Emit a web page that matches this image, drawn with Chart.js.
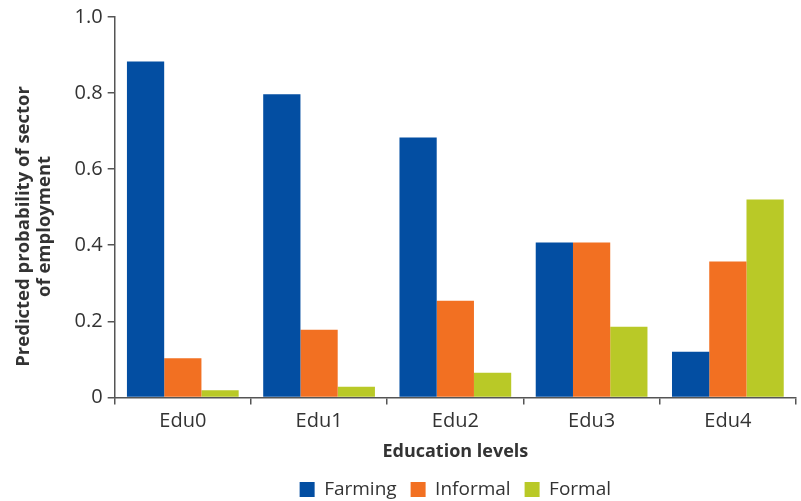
<!DOCTYPE html>
<html lang="en">
<head>
    <meta charset="UTF-8">
    <title>Predicted probability of sector of employment</title>
    <script src="https://cdn.jsdelivr.net/npm/chart.js"></script>
    <style>
        body { margin: 0; background: #fff; }
        #wrap { width: 801px; height: 501px; }
    </style>
</head>
<body>
    <div id="wrap"><canvas id="sectorChart"></canvas></div>
    <script>
        const levels = ['Edu0', 'Edu1', 'Edu2', 'Edu3', 'Edu4'];
        const farming = [0.883, 0.797, 0.683, 0.407, 0.120];
        const informal = [0.103, 0.178, 0.254, 0.407, 0.357];
        const formal = [0.019, 0.028, 0.065, 0.186, 0.520];

        const textColor = '#333333';
        const axisColor = '#555555';
        const font = 'Open Sans';

        // trailing spaces nudge the rotated title a little below the axis centre
        const yTitle = ['Predicted probability of sector        ', 'of employment        '];

        const ctx = document.getElementById('sectorChart').getContext('2d');
        new Chart(ctx, {
            type: 'bar',
            data: {
                labels: levels,
                datasets: [
                    { label: 'Farming', data: farming, backgroundColor: '#034ea2' },
                    { label: 'Informal', data: informal, backgroundColor: '#f27022' },
                    { label: 'Formal', data: formal, backgroundColor: '#b9c927' }
                ]
            },
            options: {
                responsive: true,
                maintainAspectRatio: false,
                animation: false,
                layout: { padding: { top: 6, right: 5, left: 13, bottom: -8 } },
                datasets: {
                    bar: { categoryPercentage: 0.82, barPercentage: 1.0, borderWidth: 0 }
                },
                plugins: {
                    tooltip: { enabled: false },
                    legend: {
                        position: 'bottom',
                        fullSize: false,
                        labels: {
                            boxWidth: 15,
                            boxHeight: 15,
                            padding: 14,
                            color: textColor,
                            font: { family: font, size: 19 }
                        }
                    }
                },
                scales: {
                    x: {
                        grid: {
                            offset: true,
                            drawOnChartArea: false,
                            tickLength: 7,
                            color: axisColor,
                            lineWidth: 1.5
                        },
                        border: { color: axisColor, width: 1.5 },
                        ticks: { color: textColor, font: { family: font, size: 20 }, padding: 5 },
                        title: {
                            display: true,
                            text: 'Education levels',
                            color: textColor,
                            font: { family: font, size: 18, weight: 'bold' },
                            padding: { top: 3, bottom: 3 }
                        }
                    },
                    y: {
                        min: 0,
                        max: 1,
                        grid: {
                            drawOnChartArea: false,
                            tickLength: 7,
                            color: axisColor,
                            lineWidth: 1.5
                        },
                        border: { color: axisColor, width: 1.5 },
                        ticks: {
                            stepSize: 0.2,
                            padding: 5,
                            color: textColor,
                            font: { family: font, size: 20 },
                            callback: v => v === 0 ? '0' : v.toFixed(1)
                        },
                        title: {
                            display: true,
                            text: yTitle,
                            color: textColor,
                            font: { family: font, size: 18.5, weight: 'bold', lineHeight: 1.15 },
                            padding: { top: 0, bottom: 14 }
                        }
                    }
                }
            }
        });
    </script>
</body>
</html>
